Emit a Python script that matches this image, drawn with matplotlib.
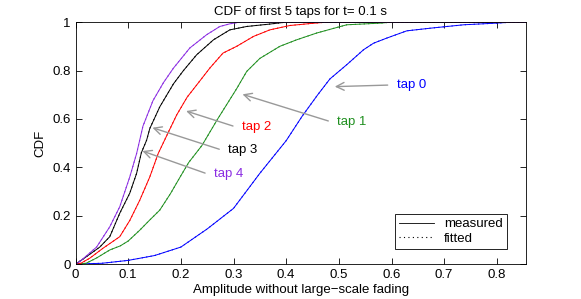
import numpy as np
import matplotlib
matplotlib.use("Agg")
import matplotlib.pyplot as plt

plt.rcParams['font.family'] = ['Liberation Sans', 'DejaVu Sans']

# values (amplitude, CDF)
tap0_x = [0, 0.05, 0.1, 0.15, 0.2, 0.25, 0.3, 0.35, 0.4, 0.43, 0.46, 0.483, 0.515, 0.547, 0.566, 0.591, 0.629, 0.674, 0.737, 0.8, 0.83, 0.855]
tap0_y = [0, 0.003, 0.015, 0.035, 0.07, 0.145, 0.23, 0.375, 0.51, 0.61, 0.70, 0.765, 0.824, 0.886, 0.913, 0.934, 0.964, 0.975, 0.989, 0.996, 1.0, 1.0]

tap1_x = [0, 0.02, 0.04, 0.065, 0.085, 0.1, 0.122, 0.14, 0.16, 0.18, 0.2, 0.215, 0.24, 0.27, 0.306, 0.325, 0.35, 0.388, 0.42, 0.458, 0.483, 0.515, 0.58, 0.6, 0.855]
tap1_y = [0, 0.003, 0.025, 0.058, 0.075, 0.095, 0.14, 0.18, 0.223, 0.29, 0.365, 0.42, 0.49, 0.6, 0.725, 0.796, 0.85, 0.9, 0.927, 0.955, 0.97, 0.989, 0.996, 1.0, 1.0]

tap2_x = [0, 0.01, 0.027, 0.052, 0.084, 0.103, 0.122, 0.141, 0.157, 0.173, 0.192, 0.212, 0.23, 0.255, 0.28, 0.306, 0.338, 0.369, 0.407, 0.445, 0.477, 0.855]
tap2_y = [0, 0.003, 0.024, 0.065, 0.113, 0.18, 0.264, 0.36, 0.457, 0.53, 0.616, 0.69, 0.74, 0.81, 0.872, 0.9, 0.941, 0.968, 0.986, 0.994, 1.0, 1.0]

tap3_x = [0, 0.014, 0.046, 0.065, 0.084, 0.103, 0.116, 0.125, 0.135, 0.141, 0.16, 0.186, 0.205, 0.23, 0.262, 0.293, 0.325, 0.369, 0.4, 0.855]
tap3_y = [0, 0.02, 0.07, 0.113, 0.21, 0.293, 0.375, 0.46, 0.512, 0.56, 0.65, 0.745, 0.8, 0.865, 0.927, 0.968, 0.982, 0.992, 1.0, 1.0]

tap4_x = [0, 0.008, 0.04, 0.065, 0.084, 0.103, 0.116, 0.128, 0.147, 0.167, 0.186, 0.217, 0.249, 0.274, 0.293, 0.312, 0.855]
tap4_y = [0, 0.01, 0.07, 0.154, 0.237, 0.36, 0.457, 0.57, 0.675, 0.75, 0.81, 0.893, 0.948, 0.982, 0.993, 1.0, 1.0]

tap_names = ['tap 0', 'tap 1', 'tap 2', 'tap 3', 'tap 4']
tap_colors = ['#0000ff', '#1f8f1f', '#ff0000', '#000000', '#8a2be2']
# label text position and arrow tip (data coords)
label_pos = [(0.61, 0.74), (0.497, 0.588), (0.316, 0.567), (0.29, 0.471), (0.263, 0.372)]
arrow_tip = [(0.487, 0.733), (0.312, 0.705), (0.205, 0.636), (0.141, 0.567), (0.122, 0.471)]

fig = plt.figure(figsize=(5.81, 2.99), dpi=100)
ax = fig.add_axes([0.13, 0.117, 0.775, 0.809])

xs = [tap0_x, tap1_x, tap2_x, tap3_x, tap4_x]
ys = [tap0_y, tap1_y, tap2_y, tap3_y, tap4_y]
for x, y, c in zip(xs, ys, tap_colors):
    ax.plot(x, y, '-', color=c, lw=0.7)
    ax.plot(x, y, linestyle=(0, (1, 3)), color=c, lw=0.8)

for name, c, (tx, ty), (ax_, ay) in zip(tap_names, tap_colors, label_pos, arrow_tip):
    ax.text(tx, ty, name, color=c, fontsize=9.5, ha='left', va='center')
    ax.annotate('', xy=(ax_, ay), xytext=(tx - 0.012, ty),
                arrowprops=dict(arrowstyle='->', color='#999999', lw=1.0, mutation_scale=14))

# legend proxies
ax.plot([], [], '-', color='k', lw=0.6, label='measured')
ax.plot([], [], linestyle=(0, (1, 3)), color='k', lw=0.8, label='fitted')
h, l = ax.get_legend_handles_labels()
leg = ax.legend(h[-2:], l[-2:], loc='lower right', bbox_to_anchor=(0.958, 0.062),
                borderaxespad=0, fontsize=9.5, fancybox=False, framealpha=1,
                handlelength=2.6, borderpad=0.3, labelspacing=0.2)
leg.get_frame().set_edgecolor('k')
leg.get_frame().set_linewidth(0.6)

ax.set_xlim(0, 0.855)
ax.set_ylim(0, 1)
ax.set_xticks(np.arange(0, 0.81, 0.1))
ax.set_xticklabels(['0', '0.1', '0.2', '0.3', '0.4', '0.5', '0.6', '0.7', '0.8'])
ax.set_yticks([0, 0.2, 0.4, 0.6, 0.8, 1])
ax.set_yticklabels(['0', '0.2', '0.4', '0.6', '0.8', '1'])
ax.tick_params(direction='in', top=True, right=True, labelsize=9.5, length=4, width=0.6)
for s in ax.spines.values():
    s.set_linewidth(0.6)

ax.set_xlabel('Amplitude without large\u2212scale fading', fontsize=9.5, labelpad=2)
ax.set_ylabel('CDF', fontsize=9.5)
ax.set_title('CDF of first 5 taps for t= 0.1 s', fontsize=9.5, pad=5)

fig.savefig('out.png', dpi=100)
